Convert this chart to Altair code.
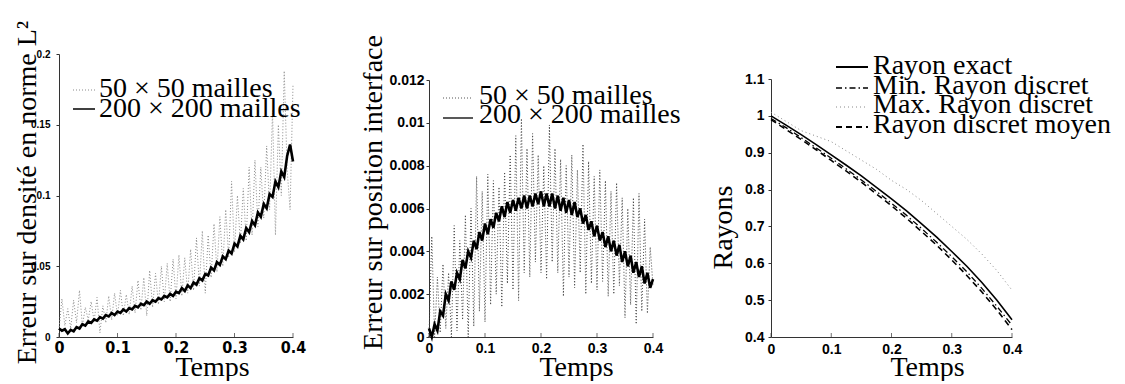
import altair as alt
import pandas as pd

# ---------------- data ----------------
# sampling times (s) of the two error curves
TIMES = [round(i * 0.005, 3) for i in range(81)]

# left panel: L2 density error
DENS_FINE = [0.006, 0.0045, 0.0055, 0.0025, 0.005, 0.004, 0.007, 0.006, 0.009, 0.008,
             0.011, 0.010, 0.0125, 0.0115, 0.014, 0.013, 0.0155, 0.0145, 0.017, 0.0155,
             0.018, 0.017, 0.0195, 0.018, 0.0205, 0.0195, 0.022, 0.021, 0.0235, 0.0225,
             0.025, 0.0235, 0.026, 0.025, 0.0275, 0.0265, 0.029, 0.028, 0.0305, 0.029,
             0.032, 0.031, 0.0345, 0.0325, 0.0365, 0.0345, 0.0385, 0.037, 0.0415, 0.040,
             0.0445, 0.0435, 0.049, 0.047, 0.053, 0.051, 0.057, 0.055, 0.061, 0.059,
             0.066, 0.064, 0.0715, 0.069, 0.077, 0.074, 0.082, 0.079, 0.088, 0.085,
             0.094, 0.091, 0.101, 0.099, 0.110, 0.106, 0.117, 0.113, 0.128, 0.136, 0.124]
DENS_COARSE = [0.005, 0.027, 0.008, 0.020, 0.006, 0.026, 0.010, 0.033, 0.008, 0.021,
               0.012, 0.025, 0.011, 0.028, 0.003, 0.022, 0.010, 0.029, 0.012, 0.031,
               0.015, 0.033, 0.015, 0.030, 0.016, 0.036, 0.017, 0.040, 0.019, 0.042,
               0.015, 0.047, 0.021, 0.045, 0.023, 0.050, 0.025, 0.052, 0.025, 0.055,
               0.027, 0.058, 0.029, 0.056, 0.031, 0.062, 0.033, 0.070, 0.036, 0.075,
               0.031, 0.072, 0.042, 0.080, 0.046, 0.085, 0.050, 0.090, 0.056, 0.110,
               0.060, 0.100, 0.066, 0.105, 0.068, 0.120, 0.072, 0.125, 0.078, 0.120,
               0.084, 0.135, 0.090, 0.160, 0.072, 0.150, 0.100, 0.188, 0.118, 0.090, 0.178]

# middle panel: interface position error
POS_FINE = [0.0004, 0.0000, 0.0006, 0.0003, 0.0012, 0.0010, 0.0020, 0.0017, 0.0026, 0.0022,
            0.0030, 0.0027, 0.0036, 0.0032, 0.0040, 0.0037, 0.0045, 0.0041, 0.0049, 0.0045,
            0.0053, 0.0048, 0.0055, 0.0051, 0.0058, 0.0054, 0.0061, 0.0056, 0.0063, 0.0058,
            0.0064, 0.0059, 0.0065, 0.0060, 0.0066, 0.0060, 0.0066, 0.0061, 0.0067, 0.0062,
            0.0068, 0.0061, 0.0067, 0.0061, 0.0067, 0.0060, 0.0066, 0.0059, 0.0065, 0.0058,
            0.0064, 0.0057, 0.0063, 0.0056, 0.0060, 0.0053, 0.0057, 0.0050, 0.0054, 0.0047,
            0.0052, 0.0045, 0.0049, 0.0042, 0.0047, 0.0040, 0.0045, 0.0038, 0.0043, 0.0035,
            0.0040, 0.0033, 0.0038, 0.0030, 0.0035, 0.0028, 0.0033, 0.0025, 0.0030, 0.0023, 0.0027]
POS_COARSE = [0.0000, 0.0047, 0.0000, 0.0028, 0.0002, 0.0034, 0.0004, 0.0030, 0.0000, 0.0052,
              0.0003, 0.0045, 0.0008, 0.0057, 0.0000, 0.0060, 0.0005, 0.0075, 0.0012, 0.0068,
              0.0007, 0.0076, 0.0015, 0.0073, 0.0020, 0.0070, 0.0014, 0.0077, 0.0025, 0.0085,
              0.0022, 0.0094, 0.0017, 0.0102, 0.0030, 0.0088, 0.0028, 0.0095, 0.0035, 0.0085,
              0.0030, 0.0080, 0.0027, 0.0099, 0.0035, 0.0088, 0.0030, 0.0083, 0.0019, 0.0080,
              0.0028, 0.0085, 0.0023, 0.0078, 0.0030, 0.0090, 0.0020, 0.0082, 0.0025, 0.0075,
              0.0022, 0.0078, 0.0026, 0.0073, 0.0019, 0.0068, 0.0020, 0.0072, 0.0024, 0.0065,
              0.0009, 0.0060, 0.0015, 0.0065, 0.0006, 0.0067, 0.0012, 0.0055, 0.0011, 0.0042, 0.0024]

# right panel: radii
R_TIMES = [0.0, 0.025, 0.05, 0.075, 0.1, 0.125, 0.15, 0.175, 0.2, 0.225, 0.25, 0.275,
           0.3, 0.325, 0.35, 0.375, 0.4]
R_EXACT = [1.0, 0.975, 0.949, 0.922, 0.894, 0.866, 0.837, 0.806, 0.775, 0.742, 0.707,
           0.671, 0.632, 0.592, 0.548, 0.5, 0.447]
R_MIN = [0.993, 0.968, 0.941, 0.913, 0.885, 0.856, 0.826, 0.795, 0.763, 0.73, 0.694,
         0.657, 0.618, 0.577, 0.532, 0.483, 0.432]
R_MAX = [1.01, 0.985, 0.96, 0.945, 0.93, 0.905, 0.88, 0.855, 0.825, 0.8, 0.77, 0.735,
         0.70, 0.665, 0.625, 0.58, 0.527]
R_MEAN = [0.99, 0.963, 0.936, 0.908, 0.879, 0.85, 0.82, 0.788, 0.756, 0.722, 0.686,
          0.649, 0.609, 0.567, 0.522, 0.473, 0.42]

X_TICKS = [0, 0.1, 0.2, 0.3, 0.4]
Y_TICKS_DENS = [0, 0.05, 0.1, 0.15, 0.2]
Y_TICKS_POS = [0, 0.002, 0.004, 0.006, 0.008, 0.01, 0.012]
Y_TICKS_R = [0.4, 0.5, 0.6, 0.7, 0.8, 0.9, 1.0, 1.1]

MESH_LABELS = ["50 \u00d7 50 mailles", "200 \u00d7 200 mailles"]
RADIUS_LABELS = ["Rayon exact", "Min. Rayon discret", "Max. Rayon discret", "Rayon discret moyen"]

X_TITLE = "Temps"
Y_TITLES = ["Erreur sur densit\u00e9 en norme L\u00b2", "Erreur sur position interface", "Rayons"]

# ---------------- style ----------------
SERIF = "Liberation Serif"
SANS = "Liberation Sans"
NARROW = "Liberation Sans Narrow, DejaVu Sans Condensed, Liberation Sans"
AXC = "#333333"
H = 283
ONE = pd.DataFrame({"k": [0]})
TICKS_DF = pd.DataFrame({"t": X_TICKS})


def x_enc(rng, title_x, lab_font, lab_size, lab_pad):
    return alt.X("t:Q", scale=alt.Scale(domain=[0, 0.4], range=rng, nice=False, zero=False),
                 axis=alt.Axis(values=X_TICKS, format="~g", ticks=False, tickSize=0,
                               labelPadding=lab_pad, labelFont=lab_font, labelFontSize=lab_size,
                               labelFontWeight="bold", labelColor="black", labelFlush=False,
                               domainColor=AXC, domainWidth=1, grid=False,
                               title=X_TITLE, titleFont=SERIF, titleFontSize=28,
                               titleFontWeight="normal", titleColor="black",
                               titleX=title_x, titleY=38, titleAlign="center",
                               titleBaseline="alphabetic"))


def y_enc(domain, rng, values, title, tx, ty, lab_size, lab_pad):
    return alt.Y("v:Q", scale=alt.Scale(domain=domain, range=rng, nice=False, zero=False),
                 axis=alt.Axis(values=values, format="~g", tickSize=3, tickColor=AXC,
                               labelPadding=lab_pad, labelFont=SANS, labelFontSize=lab_size,
                               labelFontWeight="bold", labelColor="black", labelFlush=False,
                               domainColor=AXC, domainWidth=1, grid=False,
                               title=title, titleFont=SERIF, titleFontSize=28,
                               titleFontWeight="normal", titleColor="black",
                               titleAngle=270, titleX=tx, titleY=ty, titleAlign="center",
                               titleBaseline="alphabetic"))


def legend_item(x1, x2, ysym, xtext, ytext, label, color, dash, width):
    mk = dict(color=color, strokeWidth=width)
    if dash:
        mk["strokeDash"] = dash
    rule = alt.Chart(ONE).mark_rule(**mk).encode(
        x=alt.value(x1), x2=alt.value(x2), y=alt.value(ysym))
    txt = alt.Chart(ONE).mark_text(align="left", baseline="alphabetic", font=SERIF,
                                   fontSize=28, color="black").encode(
        x=alt.value(xtext), y=alt.value(ytext), text=alt.value(label))
    return [rule, txt]


def tick_layer(X):
    return alt.Chart(TICKS_DF).mark_tick(color=AXC, thickness=1, size=4).encode(
        x=X, y=alt.value(H - 2))


# ---------------- left panel ----------------
XL = x_enc([0, 234], 153, NARROW, 16, 2)
YL = y_enc([0, 0.2], [H, 0], Y_TICKS_DENS, Y_TITLES[0], -24, 138, 10, 6)
df_lc = pd.DataFrame({"t": TIMES, "v": DENS_COARSE})
df_lf = pd.DataFrame({"t": TIMES, "v": DENS_FINE})
left = alt.layer(
    alt.Chart(df_lc).mark_line(color="#8a8a8a", strokeDash=[1, 2], strokeWidth=1).encode(x=XL, y=YL),
    alt.Chart(df_lf).mark_line(color="black", strokeWidth=2.6).encode(x=XL, y=YL),
    tick_layer(XL),
    *legend_item(14, 37, 36, 40, 43, MESH_LABELS[0], "#8a8a8a", [1, 2], 1),
    *legend_item(14, 36, 55, 40, 63, MESH_LABELS[1], "black", None, 1.5),
).properties(width=270, height=H)

# ---------------- middle panel ----------------
XM = x_enc([0, 224], 147, SANS, 14, 4)
YM = y_enc([0, 0.012], [H, 26], Y_TICKS_POS, Y_TITLES[1], -48, 138, 14, 2)
df_mc = pd.DataFrame({"t": TIMES, "v": POS_COARSE})
df_mf = pd.DataFrame({"t": TIMES, "v": POS_FINE})
middle = alt.layer(
    alt.Chart(df_mc).mark_line(color="#444444", strokeDash=[1, 2], strokeWidth=1).encode(x=XM, y=YM),
    alt.Chart(df_mf).mark_line(color="black", strokeWidth=2.6).encode(x=XM, y=YM),
    tick_layer(XM),
    *legend_item(14, 44, 44, 50, 50, MESH_LABELS[0], "#555555", [1, 2], 1),
    *legend_item(14, 44, 64, 50, 69, MESH_LABELS[1], "#222222", None, 1.5),
).properties(width=242, height=H)

# ---------------- right panel ----------------
XR = x_enc([0, 241], 156, SANS, 14, 5)
YR = y_enc([0.4, 1.1], [H, 25], Y_TICKS_R, Y_TITLES[2], -40, 173, 14, 4)
df_re = pd.DataFrame({"t": R_TIMES, "v": R_EXACT})
df_rmin = pd.DataFrame({"t": R_TIMES, "v": R_MIN})
df_rmax = pd.DataFrame({"t": R_TIMES, "v": R_MAX})
df_rmean = pd.DataFrame({"t": R_TIMES, "v": R_MEAN})
right = alt.layer(
    alt.Chart(df_rmax).mark_line(color="#888888", strokeDash=[1, 3], strokeWidth=1).encode(x=XR, y=YR),
    alt.Chart(df_rmean).mark_line(color="black", strokeDash=[6, 4], strokeWidth=1.6).encode(x=XR, y=YR),
    alt.Chart(df_rmin).mark_line(color="black", strokeDash=[6, 3, 1.5, 3], strokeWidth=1.3).encode(x=XR, y=YR),
    alt.Chart(df_re).mark_line(color="black", strokeWidth=1.6).encode(x=XR, y=YR),
    tick_layer(XR),
    *legend_item(65, 97, 13, 102, 20, RADIUS_LABELS[0], "black", None, 2),
    *legend_item(65, 97, 34, 102, 40, RADIUS_LABELS[1], "black", [6, 3, 1.5, 3], 1.5),
    *legend_item(65, 97, 53, 102, 59, RADIUS_LABELS[2], "#888888", [1, 3], 1),
    *legend_item(65, 97, 73, 102, 79, RADIUS_LABELS[3], "black", [6, 4], 2),
).properties(width=241, height=H)

chart = alt.hconcat(left, middle, right, spacing=100, bounds="flush").properties(
    autosize=alt.AutoSizeParams(type="pad"),
    padding={"left": 12, "top": 20, "right": 0, "bottom": 0},
    background="white",
).configure_view(stroke=None)

chart.save("out.html", embed_options={"renderer": "svg", "actions": False})
